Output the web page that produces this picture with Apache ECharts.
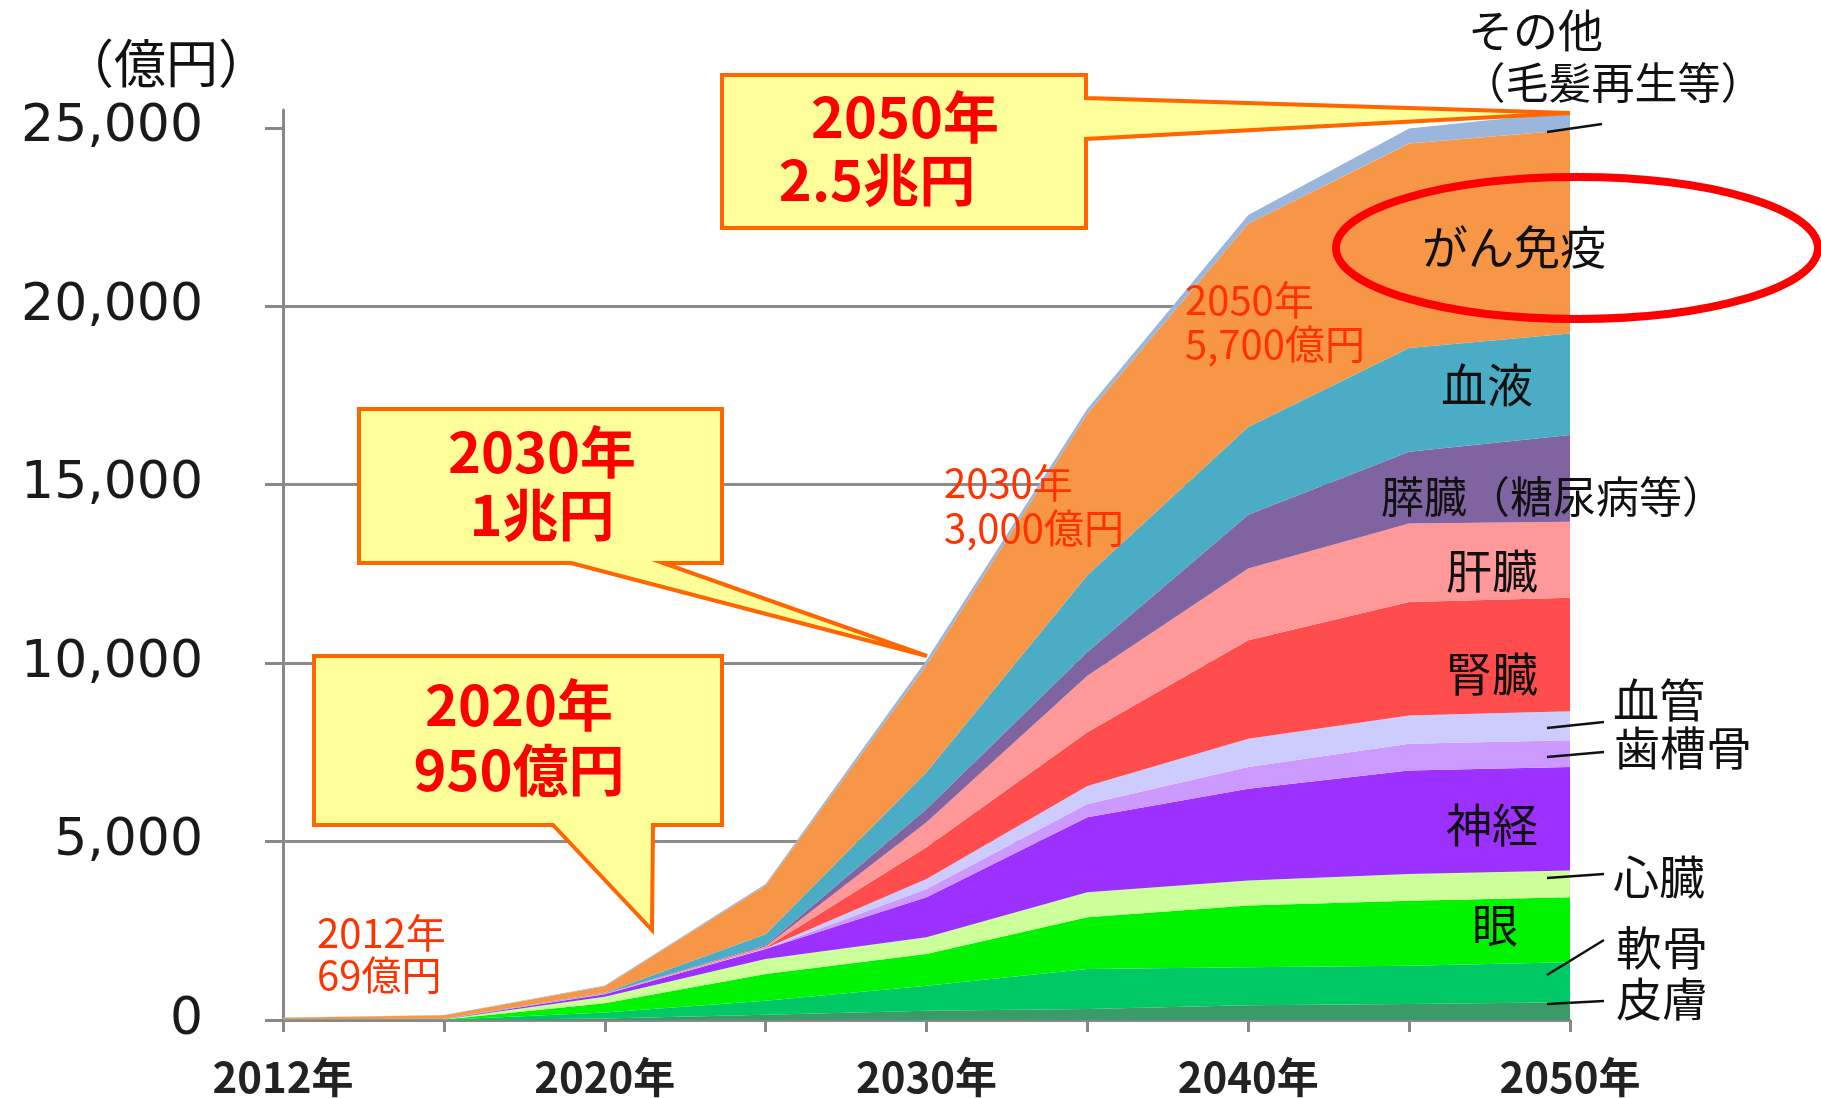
<!DOCTYPE html>
<html>
<head>
<meta charset="utf-8">
<title>再生医療の市場規模</title>
<script src="https://cdn.jsdelivr.net/npm/echarts@6/dist/echarts.min.js"></script>
<style>
  html, body { margin: 0; padding: 0; background: #fff; }
  #chart { width: 1821px; height: 1098px; }
</style>
</head>
<body>
<div id="chart"></div>
<script>
// 横軸（年）と目盛
const years = ['2012年', '2015年', '2020年', '2025年', '2030年', '2035年', '2040年', '2045年', '2050年'];
const yearLabels = ['2012年', '', '2020年', '', '2030年', '', '2040年', '', '2050年'];
const yTicks = [0, 5000, 10000, 15000, 20000, 25000];

// 分野別の市場規模（億円）、下から積み上げる順
const hifu     = [1, 2,  40, 150,  260,  310,  410,  450,  500];   // 皮膚
const nankotsu = [2, 5, 170, 390,  700, 1120, 1070, 1070, 1120];   // 軟骨
const me       = [3, 8, 260, 750,  890, 1450, 1730, 1820, 1820];   // 眼
const shinzo   = [2, 5, 180, 420,  470,  700,  700,  750,  750];   // 心臓
const shinkei  = [2, 5,  70, 280, 1120, 2100, 2570, 2900, 2900];   // 神経
const shisokotsu = [1, 1, 5, 10,   230,  370,  610,  750,  750];   // 歯槽骨
const kekkan   = [1, 1,   5,  10,  280,  510,  790,  790,  810];   // 血管
const jinzo    = [1, 1,   5,  20,  890, 1500, 2760, 3180, 3180];   // 腎臓
const kanzo    = [1, 1,   5,  30,  700, 1590, 2010, 2200, 2130];   // 肝臓
const suizo    = [1, 1,   5,  30,  370,  660, 1510, 2010, 2430];   // 膵臓
const ketsueki = [3, 5,  20, 310, 1030, 2150, 2460, 2910, 2850];   // 血液
const gan      = [48, 100, 180, 1370, 3000, 4530, 5690, 5730, 5700]; // がん免疫
const sonota   = [3, 5,  20,  40,  150,  140,  250,  420,  510];   // その他

const layers = [
  { name: '皮膚', data: hifu, color: '#3a9a68' },
  { name: '軟骨', data: nankotsu, color: '#00c864' },
  { name: '眼', data: me, color: '#00f400' },
  { name: '心臓', data: shinzo, color: '#ccff99' },
  { name: '神経', data: shinkei, color: '#9b30ff' },
  { name: '歯槽骨', data: shisokotsu, color: '#cc99ff' },
  { name: '血管', data: kekkan, color: '#ccccff' },
  { name: '腎臓', data: jinzo, color: '#ff4d4d' },
  { name: '肝臓', data: kanzo, color: '#ff9999' },
  { name: '膵臓', data: suizo, color: '#8064a2' },
  { name: '血液', data: ketsueki, color: '#4bacc6' },
  { name: 'がん免疫', data: gan, color: '#f79646' },
  { name: 'その他', data: sonota, color: '#9ab6dd' }
];

const JP = '"Noto Sans CJK JP", sans-serif';

// 積み上げ面
let series = layers.map(l => ({
  name: l.name,
  type: 'line',
  stack: 'total',
  data: l.data,
  symbol: 'none',
  lineStyle: { width: 0 },
  areaStyle: { color: l.color, opacity: 1 },
  itemStyle: { color: l.color },
  silent: true
}));

// 注記用の文字
function txt(x, y, text, size, color, weight, align) {
  return {
    type: 'text', x: x, y: y, z: 100,
    style: {
      text: text, fill: color || '#111', fontSize: size, fontFamily: JP,
      fontWeight: weight || 'normal', align: align || 'center', verticalAlign: 'middle'
    }
  };
}
function lead(x1, y1, x2, y2) {
  return { type: 'line', z: 100, shape: { x1: x1, y1: y1, x2: x2, y2: y2 }, style: { stroke: '#111', lineWidth: 2.5 } };
}
function callout(points) {
  return { type: 'polygon', z: 90, shape: { points: points }, style: { fill: '#ffff99', stroke: '#ff6600', lineWidth: 4 } };
}

let graphics = [
  txt(166, 63, '（億円）', 52, '#111'),

  // 吹き出し
  callout([[722, 75], [1086, 75], [1086, 98], [1570, 113], [1086, 139], [1086, 228], [722, 228]]),
  txt(905, 117, '2050年', 56, '#ff0000', 'bold'),
  txt(877, 180, '2.5兆円', 56, '#ff0000', 'bold'),

  callout([[359, 409], [722, 409], [722, 563], [663, 563], [927, 656], [571, 563], [359, 563]]),
  txt(542, 452, '2030年', 56, '#ff0000', 'bold'),
  txt(542, 515, '1兆円', 56, '#ff0000', 'bold'),

  callout([[314, 656], [722, 656], [722, 825], [653, 825], [652, 930], [553, 825], [314, 825]]),
  txt(519, 705, '2020年', 56, '#ff0000', 'bold'),
  txt(519, 770, '950億円', 56, '#ff0000', 'bold'),

  // 赤い補足
  txt(317, 933, '2012年', 40, '#ff3300', 'normal', 'left'),
  txt(317, 975, '69億円', 40, '#ff3300', 'normal', 'left'),
  txt(944, 483, '2030年', 40, '#ff3300', 'normal', 'left'),
  txt(944, 528, '3,000億円', 40, '#ff3300', 'normal', 'left'),
  txt(1185, 300, '2050年', 40, '#ff3300', 'normal', 'left'),
  txt(1185, 344, '5,700億円', 40, '#ff3300', 'normal', 'left'),

  // がん免疫の丸
  { type: 'ellipse', z: 95, shape: { cx: 1577, cy: 248, rx: 241, ry: 71 }, style: { fill: 'none', stroke: '#ff0000', lineWidth: 8 } },

  // 右側の分野名
  txt(1468, 31, 'その他', 45, '#111', 'normal', 'left'),
  txt(1613, 83, '（毛髪再生等）', 43, '#111'),
  txt(1514, 247, 'がん免疫', 46),
  txt(1487, 385, '血液', 46),
  txt(1553, 497, '膵臓（糖尿病等）', 43),
  txt(1492, 571, '肝臓', 46),
  txt(1492, 674, '腎臓', 46),
  txt(1659, 700, '血管', 46),
  txt(1683, 748, '歯槽骨', 46),
  txt(1492, 825, '神経', 46),
  txt(1659, 877, '心臓', 46),
  txt(1495, 925, '眼', 46),
  txt(1662, 948, '軟骨', 46),
  txt(1662, 999, '皮膚', 46),

  lead(1547, 132, 1602, 124),
  lead(1547, 728, 1604, 722),
  lead(1547, 757, 1604, 752),
  lead(1547, 878, 1604, 874),
  lead(1547, 975, 1604, 940),
  lead(1547, 1004, 1604, 1001)
];

let option = {
  backgroundColor: '#fff',
  animation: false,
  grid: { left: 283, right: 251, top: 110, bottom: 77, containLabel: false },
  xAxis: {
    type: 'category',
    data: years,
    boundaryGap: false,
    axisLine: { lineStyle: { color: '#888', width: 3 } },
    axisTick: { show: true, length: 12, lineStyle: { color: '#888', width: 3 } },
    axisLabel: {
      interval: 0, margin: 36,
      color: '#222', fontSize: 42, fontWeight: 'bold', fontFamily: JP,
      formatter: (v, i) => yearLabels[i]
    },
    splitLine: { show: false }
  },
  yAxis: {
    type: 'value',
    min: 0, max: 25500, interval: 5000,
    axisLine: { show: true, lineStyle: { color: '#888', width: 3 } },
    axisTick: { show: true, length: 18, customValues: yTicks, lineStyle: { color: '#888', width: 3 } },
    axisLabel: {
      margin: 80, customValues: yTicks,
      color: '#1a1a1a', fontSize: 52, fontFamily: '"DejaVu Sans", sans-serif',
      formatter: v => (v % 5000 === 0 ? v.toLocaleString('en-US') : '')
    },
    splitLine: { show: true, showMaxLine: false, lineStyle: { color: '#8c8c8c', width: 3 } }
  },
  series: series,
  graphic: graphics
};

let chart = echarts.init(document.getElementById('chart'));
chart.setOption(option);
</script>
</body>
</html>
